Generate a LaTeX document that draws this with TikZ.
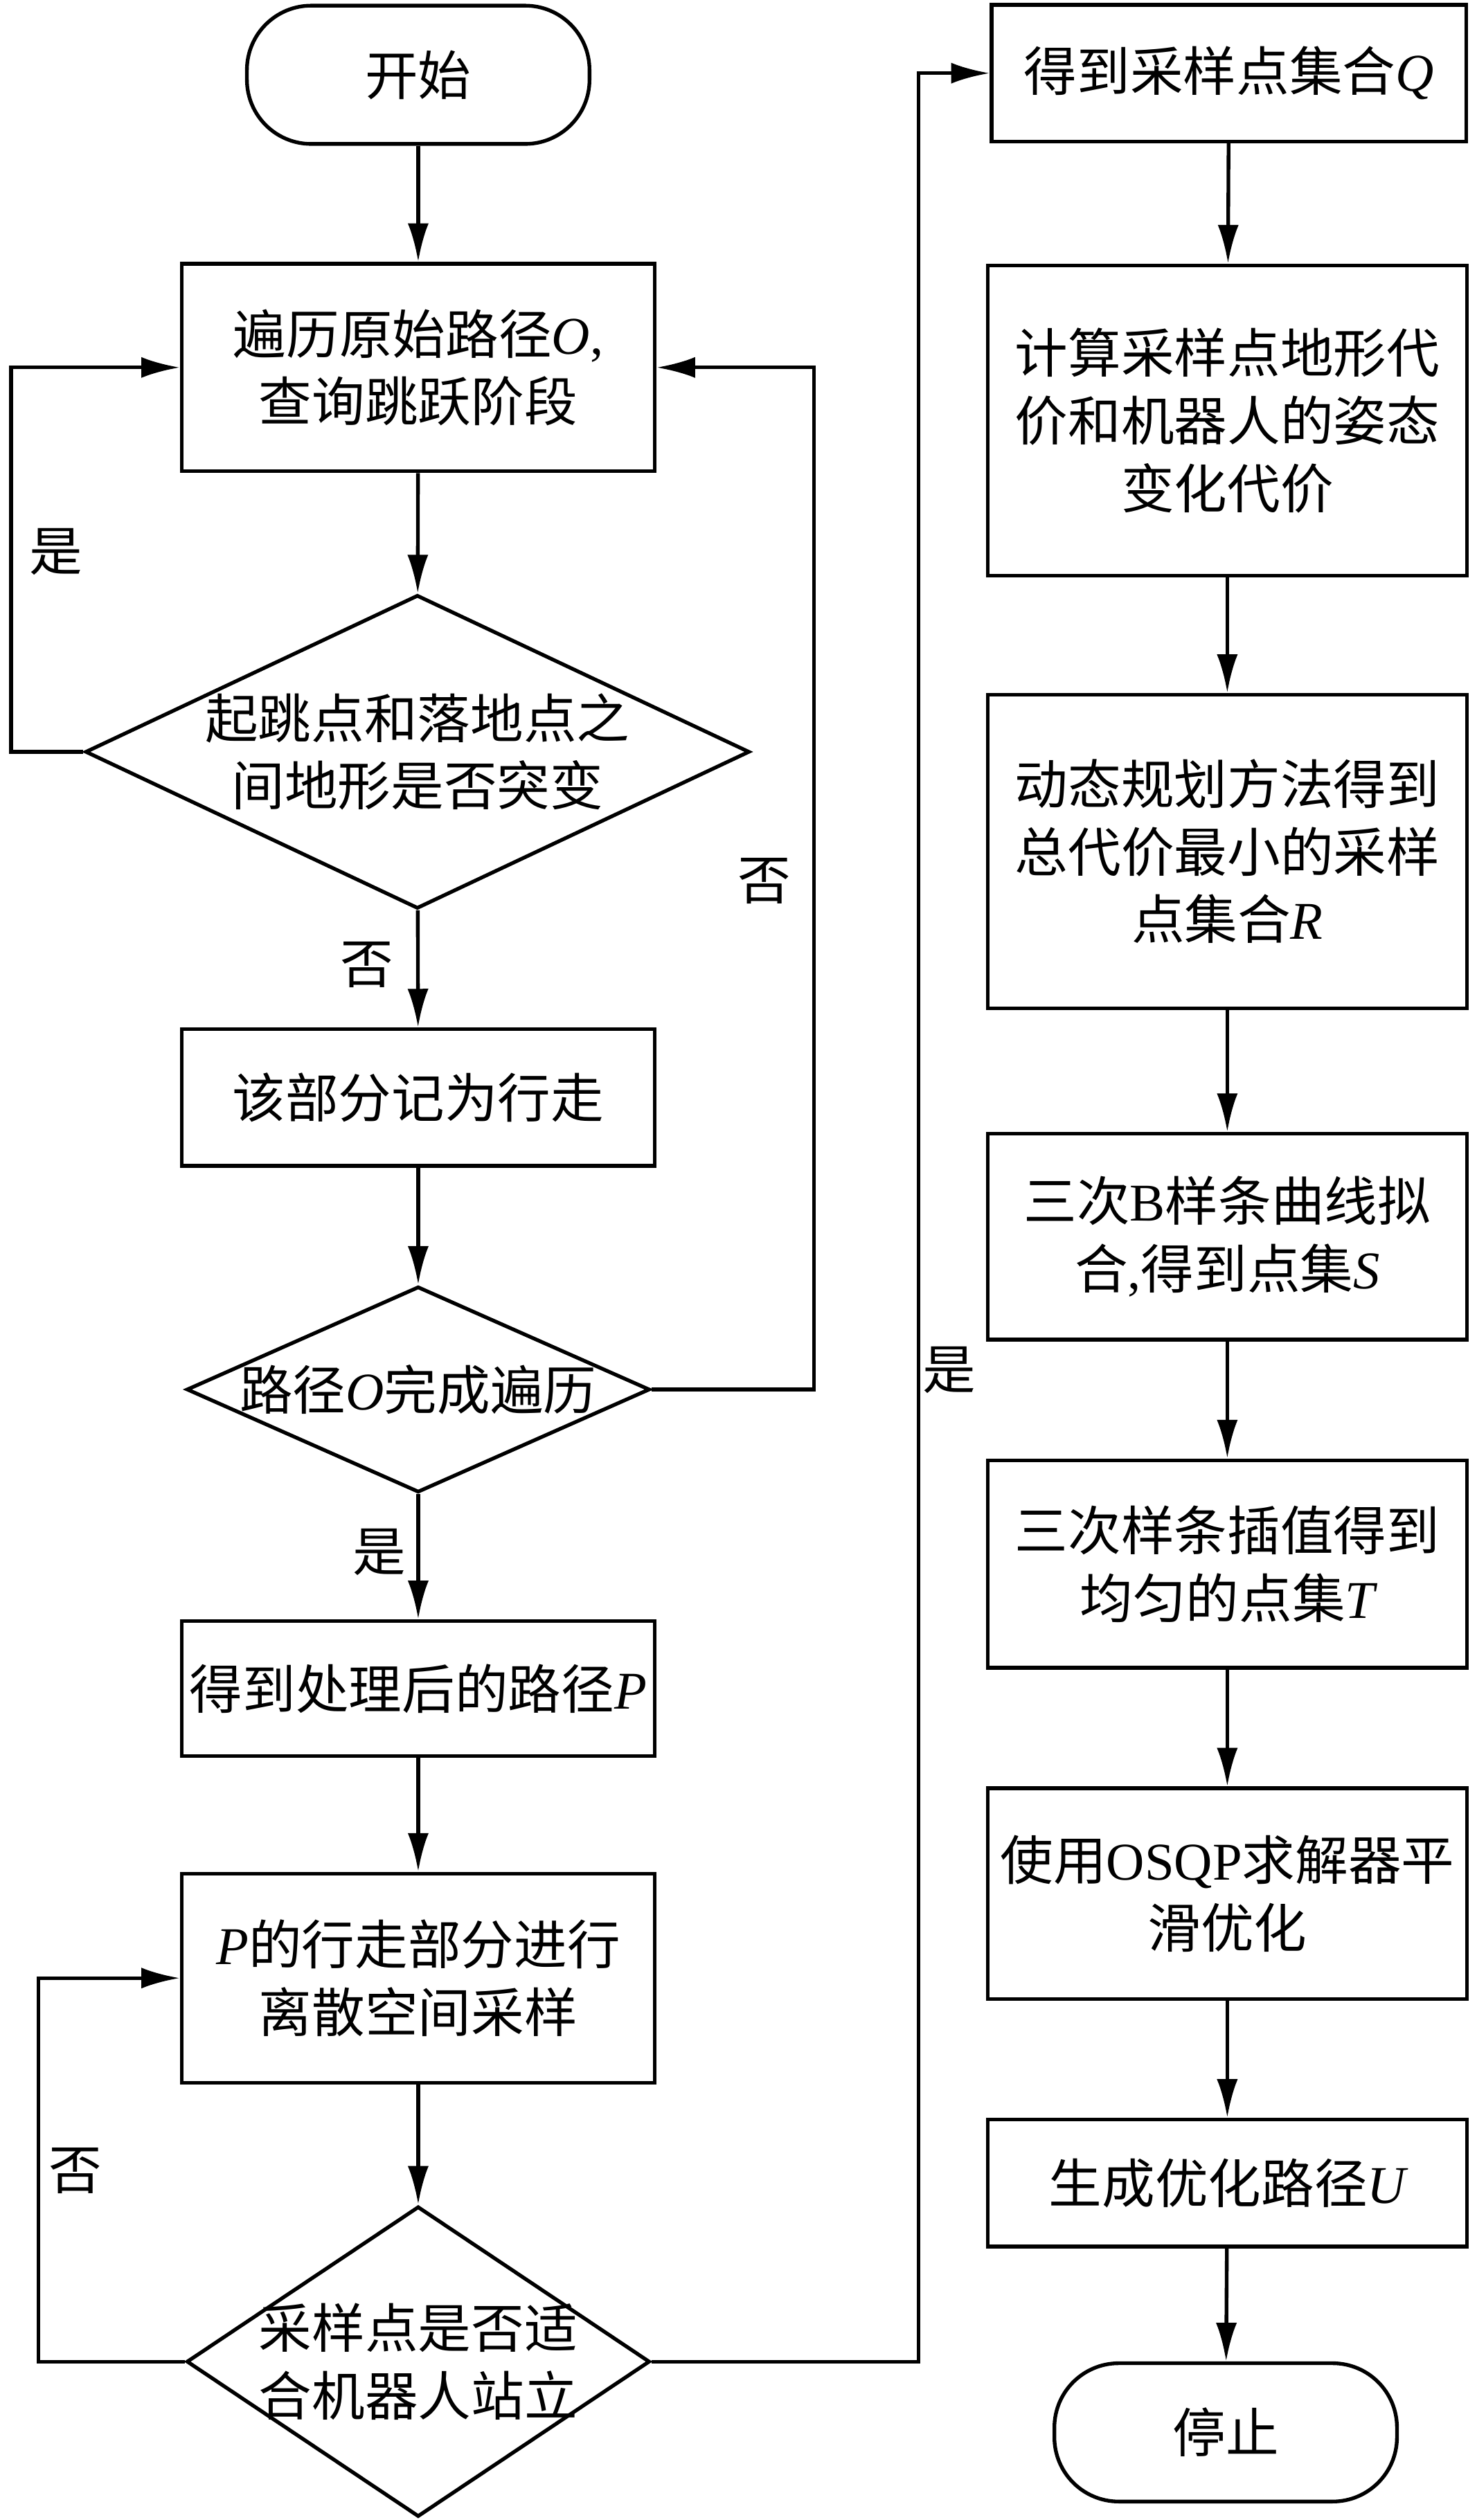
\documentclass[tikz,border=0pt]{standalone}
\usepackage{fontspec}
\setmainfont{Noto Sans CJK SC}
\newfontfamily\tnr{Liberation Serif}
\newcommand{\mv}[1]{{\tnr\itshape #1}}
\newcommand{\mr}[1]{{\tnr #1}}
\usetikzlibrary{shapes.geometric,arrows.meta}

\tikzset{every picture/.style={line width=2.3pt}}
\tikzset{
  zh/.style={font=\fontsize{33}{42}\selectfont},
  proc/.style={draw, rectangle, inner sep=0pt, align=center, zh},
  term/.style={draw, rectangle, rounded corners=40pt, inner sep=0pt, zh, minimum width=213, minimum height=86},
  decision/.style={draw, diamond, inner sep=0pt},
  dtext/.style={align=center, inner sep=0pt, zh},
  yn/.style={inner sep=0pt, zh},
  arr/.style={-{Latex[length=24pt,width=13pt]}}
}

\begin{document}
\begin{tikzpicture}[x=1pt,y=1pt,yscale=-1,xscale=1]
\useasboundingbox (0,0) rectangle (918,1567);

%Flowchart: left column
\node[term] (start) at (260,46.5) {开始};
\node[proc, minimum width=294, minimum height=129] (trav) at (260,228.5) {遍历原始路径\mv{O}\mr{,}\\查询跳跃阶段};
\node[decision, minimum width=413, minimum height=195, label={[dtext]center:{起跳点和落地点之\\间地形是否突变}}] (jump) at (259.5,467.5) {};
\node[proc, minimum width=294, minimum height=85] (walk) at (260,682.5) {该部分记为行走};
\node[decision, minimum width=288, minimum height=128, label={[dtext]center:{路径\mv{O}完成遍历}}] (done) at (260,864) {};
\node[proc, minimum width=294, minimum height=84] (pathP) at (260,1050) {得到处理后的路径\mv{P}};
\node[proc, minimum width=294, minimum height=130] (samp) at (260,1230) {\mv{P}的行走部分进行\\离散空间采样};
\node[decision, minimum width=288, minimum height=193, label={[dtext]center:{采样点是否适\\合机器人站立}}] (stand) at (260,1468.5) {};

%Flowchart: right column
\node[proc, minimum width=295, minimum height=85] (setQ) at (764,45.5) {得到采样点集合\mv{Q}};
\node[proc, minimum width=298, minimum height=193] (cost) at (763,261.5) {计算采样点地形代\\价和机器人的姿态\\变化代价};
\node[proc, minimum width=298, minimum height=195] (dyn) at (763,529.5) {动态规划方法得到\\总代价最小的采样\\点集合\mv{R}};
\node[proc, minimum width=298, minimum height=128] (bsp) at (763,769) {三次\mr{B}样条曲线拟\\合\mr{,}得到点集\mv{S}};
\node[proc, minimum width=298, minimum height=129] (interp) at (763,972.5) {三次样条插值得到\\均匀的点集\mv{T}};
\node[proc, minimum width=298, minimum height=131] (osqp) at (763,1177.5) {使用\mr{OSQP}求解器平\\滑优化};
\node[proc, minimum width=298, minimum height=79] (pathU) at (763,1357.5) {生成优化路径\mv{U}};
\node[term] (stop) at (762,1512.5) {停止};

%Connectors
\draw[arr] (start) -- (trav);
\draw[arr] (trav) -- (jump);
\draw[arr] (jump) -- (walk);
\draw[arr] (walk) -- (done);
\draw[arr] (done) -- (pathP);
\draw[arr] (pathP) -- (samp);
\draw[arr] (samp) -- (stand);
\draw[arr] (jump.west) -- ++(-45,0) |- (trav.west);
\draw[arr] (done.east) -- ++(101,0) |- (trav.east);
\draw[arr] (stand.west) -- ++(-91,0) |- (samp.west);
\draw[arr] (stand.east) -- ++(166,0) |- (setQ.west);

\draw[arr] (setQ) -- (cost);
\draw[arr] (cost) -- (dyn);
\draw[arr] (dyn) -- (bsp);
\draw[arr] (bsp) -- (interp);
\draw[arr] (interp) -- (osqp);
\draw[arr] (osqp) -- (pathU);
\draw[arr] (pathU) -- (stop);

%Labels
\node[yn] (yes1) at (35,343) {是};
\node[yn] (no1) at (228,600) {否};
\node[yn] (no2) at (475,548) {否};
\node[yn] (yes2) at (236,965) {是};
\node[yn] (no3) at (47,1350) {否};
\node[yn] (yes3) at (590,852) {是};

\end{tikzpicture}
\end{document}
